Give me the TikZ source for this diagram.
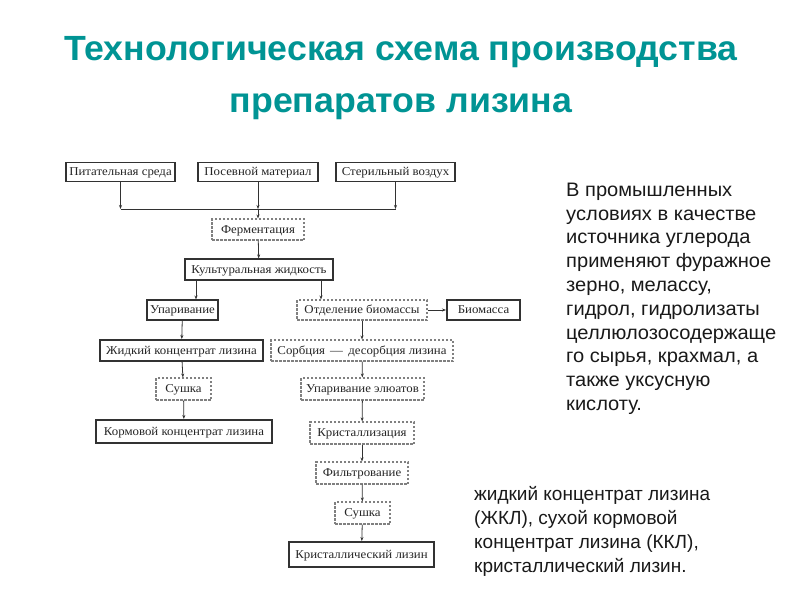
\documentclass[tikz,border=0pt]{standalone}
\usepackage{fontspec}
\setmainfont{Liberation Serif}
\newfontfamily\arial{Liberation Sans}
\newfontfamily\arialw[FakeStretch=1.03]{Liberation Sans}
\newfontfamily\titlefont[FakeStretch=1.02]{Liberation Sans}
\newfontfamily\boxfont[FakeStretch=1.07]{Liberation Serif}
\usetikzlibrary{arrows.meta}
\definecolor{titlec}{RGB}{0,148,148}
\definecolor{ln}{RGB}{50,50,50}
\begin{document}
\begin{tikzpicture}[x=1pt,y=-1pt,
 bx/.style={draw=ln, line width=1.1pt, minimum height=20pt, inner sep=0pt, text height=7.9pt, text depth=0pt, font=\boxfont\fontsize{12}{14}\selectfont, text=black!85},
 tk/.style={bx, line width=2pt},
 ds/.style={bx, draw=gray, line width=1.1pt, dash pattern=on 2.5pt off 1.5pt},
 ar/.style={draw=ln, line width=0.8pt, -{Stealth[length=4pt,width=3pt]}},
 ln/.style={draw=ln, line width=0.8pt},
 ttl/.style={anchor=base, inner sep=0pt, font=\titlefont\bfseries\fontsize{35}{35}\selectfont, text=titlec},
 side/.style={anchor=north west, align=left, inner sep=0pt, text=black!90}
 ]
\useasboundingbox[fill=white] (0,0) rectangle (800,600);
\node[ttl] (t1) at (401,60) {Технологическая схема производства};
\node[ttl] (t2) at (401,112) {препаратов лизина};

\node[bx, minimum width=109, minimum height=19] (n1) at (120.5,172) {Питательная среда};
\node[bx, minimum width=120, minimum height=19] (n2) at (258,172) {Посевной материал};
\node[bx, minimum width=119, minimum height=19] (n3) at (395.5,172) {Стерильный воздух};
\node[ds, minimum width=92, minimum height=21] (ferm) at (258,229.5) {Ферментация};
\node[bx, minimum width=148, minimum height=21] (kult) at (259,269.5) {Культуральная жидкость};
\node[bx, minimum width=71] (upar) at (182.5,310) {Упаривание};
\node[ds, minimum width=130] (otd) at (362,310) {Отделение биомассы};
\node[tk, minimum width=73] (bio) at (483.5,310) {Биомасса};
\node[tk, minimum width=163, minimum height=21] (zhk) at (181.5,350.5) {Жидкий концентрат лизина};
\node[ds, minimum width=182, minimum height=21] (sorb) at (362,350.5) {Сорбция \,—\, десорбция лизина};
\node[ds, minimum width=55, minimum height=22] (sush1) at (183.5,389) {Сушка};
\node[ds, minimum width=123, minimum height=22] (uel) at (362.5,389) {Упаривание элюатов};
\node[tk, minimum width=176, minimum height=23] (korm) at (184,431.5) {Кормовой концентрат лизина};
\node[ds, minimum width=104, minimum height=22] (krist) at (362,433) {Кристаллизация};
\node[ds, minimum width=92, minimum height=22] (filt) at (362,473) {Фильтрование};
\node[ds, minimum width=55, minimum height=22] (sush2) at (362.5,513) {Сушка};
\node[tk, minimum width=145, minimum height=25] (kl) at (361.5,554.5) {Кристаллический лизин};

\coordinate (bus) at (258,209);
\draw[ar] (n1.south) -- (n1.south |- bus);
\draw[ar] (n2.south) -- (n2.south |- bus);
\draw[ar] (n3.south) -- (n3.south |- bus);
\draw[ln] (n1.south |- bus) -- (n3.south |- bus);
\draw[ar] (bus) -- (ferm.north);
\draw[ar] (ferm) -- (kult);
\draw[ar] (kult.south -| 196,0) -- (upar.north -| 196,0);
\draw[ar] (kult.south -| 321,0) -- (otd.north -| 321,0);
\draw[ar] (otd) -- (bio);
\draw[ar] (upar) -- (zhk);
\draw[ar] (zhk) -- (sush1);
\draw[ar] (sush1) -- (korm);
\draw[ar] (otd) -- (sorb);
\draw[ar] (sorb) -- (uel);
\draw[ar] (uel) -- (krist);
\draw[ar] (krist) -- (filt);
\draw[ar] (filt) -- (sush2);
\draw[ar] (sush2) -- (kl);

\node[side, font=\arialw\fontsize{19.5}{23.8}\selectfont] (txt1) at (566,182.7) {В промышленных\\условиях в качестве\\источника углерода\\применяют фуражное\\зерно, мелассу,\\гидрол, гидролизаты\\целлюлозосодержаще\\го сырья, крахмал, а\\также уксусную\\кислоту.};
\node[side, font=\arial\fontsize{19}{24}\selectfont] (txt2) at (474,486) {жидкий концентрат лизина\\(ЖКЛ), сухой кормовой\\концентрат лизина (ККЛ),\\кристаллический лизин.};
\end{tikzpicture}
\end{document}
